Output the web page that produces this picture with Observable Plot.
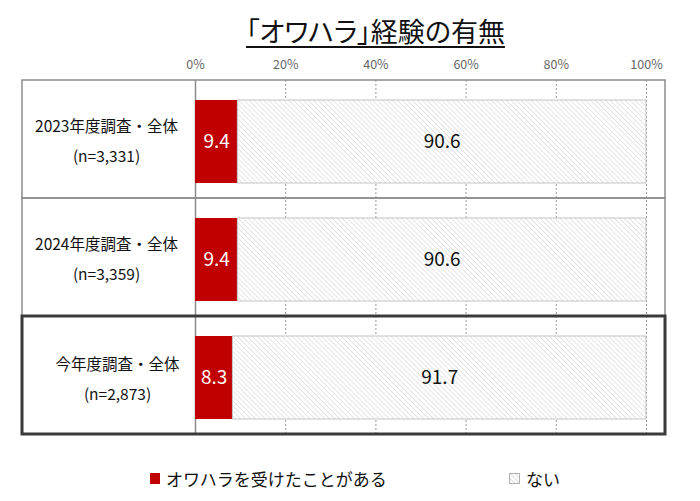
<!DOCTYPE html>
<html>
<head>
<meta charset="utf-8">
<script src="https://cdn.jsdelivr.net/npm/d3@7"></script>
<script src="https://cdn.jsdelivr.net/npm/@observablehq/plot@0.6"></script>
<style>
  body { margin: 0; background: #fff; font-family: "Noto Sans CJK JP", "Noto Sans", sans-serif; }
  #wrap { width: 700px; height: 501px; position: relative; }
  #title { height: 50px; position: relative; }
  #title span { position: absolute; left: 246px; top: 16px; font-size: 27px; line-height: 30px; color: #111; text-decoration: underline; text-underline-offset: 4px; text-decoration-thickness: 1.5px; white-space: nowrap; font-feature-settings: "palt"; }
  #legend { position: relative; height: 41px; font-size: 17px; color: #111; }
  .item { position: absolute; top: 6px; display: flex; align-items: center; white-space: nowrap; }
  .sw { width: 10px; height: 11px; margin-right: 6px; box-sizing: border-box; }
</style>
</head>
<body>
<div id="wrap">
  <div id="title"><span>「オワハラ」経験の有無</span></div>
  <div id="chart"></div>
  <div id="legend">
    <div class="item" style="left:150px"><div class="sw" style="background:#C00000"></div>オワハラを受けたことがある</div>
    <div class="item" style="left:509px"><svg class="sw" width="11" height="11" viewBox="0 0 11 11" style="width:11px;height:11px"><rect x="0.5" y="0.5" width="10" height="10" fill="url(#hatchL)" stroke="#b0b0b0"/><defs><pattern id="hatchL" patternUnits="userSpaceOnUse" width="3.5" height="3.5" patternTransform="rotate(-45)"><rect width="3.5" height="3.5" fill="#fff"/><line x1="0" y1="0" x2="0" y2="3.5" stroke="#bdbdbd" stroke-width="1.1"/></pattern></defs></svg>ない</div>
  </div>
</div>
<script>
const surveys = ["2023年度調査・全体", "2024年度調査・全体", "今年度調査・全体"];
const sampleSizes = ["(n=3,331)", "(n=3,359)", "(n=2,873)"];
const experienced = [9.4, 9.4, 8.3];
const notExperienced = [90.6, 90.6, 91.7];
const tickValues = [0, 20, 40, 60, 80, 100];
const gridValues = [20, 40, 60, 80, 100];
const seriesNames = ["オワハラを受けたことがある", "ない"];

const rows = surveys.map((s, i) => ({
  survey: s,
  label: s + "\n" + sampleSizes[i],
  yes: experienced[i],
  no: notExperienced[i],
  current: i === surveys.length - 1
}));

const segments = rows.flatMap(r => [
  {survey: r.survey, series: seriesNames[0], x1: 0, x2: r.yes, value: r.yes},
  {survey: r.survey, series: seriesNames[1], x1: r.yes, x2: r.yes + r.no, value: r.no}
]);

const chart = Plot.plot({
  width: 700,
  height: 410,
  marginLeft: 195,
  marginRight: 54,
  marginTop: 30,
  marginBottom: 26,
  style: {fontFamily: '"Noto Sans CJK JP", "Noto Sans", sans-serif', background: "#fff"},
  x: {domain: [0, 100], axis: "top", ticks: tickValues, tickFormat: d => d + "%", tickSize: 0, tickPadding: 12, label: null},
  y: {domain: surveys, padding: 0, axis: null},
  marks: [
    // row boxes
    Plot.barX(rows, {y: "survey", x1: 0, x2: 100, fill: "none", stroke: "#8c8c8c", strokeWidth: 1.5, insetLeft: -173, insetRight: -19}),
    // grid lines
    Plot.ruleX(gridValues, {stroke: "#9a9a9a", strokeWidth: 1, strokeDasharray: "2,2"}),
    Plot.ruleX([0], {stroke: "#8c8c8c", strokeWidth: 1.5}),
    // bars
    Plot.barX(segments.filter(d => d.series === seriesNames[0]), {y: "survey", x1: "x1", x2: "x2", fill: "#C00000", insetTop: 20, insetBottom: 15}),
    Plot.barX(segments.filter(d => d.series === seriesNames[1]), {y: "survey", x1: "x1", x2: "x2", fill: "url(#hatch)", stroke: "#c4c4c4", strokeWidth: 1, insetTop: 20, insetBottom: 15}),
    // value labels
    Plot.text(segments.filter(d => d.series === seriesNames[0]), {y: "survey", x: d => (d.x1 + d.x2) / 2, text: d => d.value.toFixed(1), fill: "#fff", fontSize: 19, dy: 2.5}),
    Plot.text(segments.filter(d => d.series === seriesNames[1]), {y: "survey", x: d => (d.x1 + d.x2) / 2, text: d => d.value.toFixed(1), fill: "#111", fontSize: 19, dy: 2.5}),
    // current survey thick box
    Plot.barX(rows.filter(r => r.current), {y: "survey", x1: 0, x2: 100, fill: "none", stroke: "#3a3a3a", strokeWidth: 3, insetLeft: -173, insetRight: -19}),
    // row labels
    Plot.text(rows.filter(r => !r.current), {y: "survey", text: "label", frameAnchor: "left", dx: -89, dy: -2, textAnchor: "middle", fontSize: 15.5, lineHeight: 1.95, fill: "#111"}),
    Plot.text(rows.filter(r => r.current), {y: "survey", text: "label", frameAnchor: "left", dx: -78, dy: 0, textAnchor: "middle", fontSize: 15.5, lineHeight: 1.95, fill: "#111"})
  ]
});

chart.insertAdjacentHTML("afterbegin",
  '<defs><pattern id="hatch" patternUnits="userSpaceOnUse" width="3.5" height="3.5" patternTransform="rotate(-45)">' +
  '<rect width="3.5" height="3.5" fill="#fff"/><line x1="0" y1="0" x2="0" y2="3.5" stroke="#cfcfcf" stroke-width="1.1"/></pattern></defs>');
chart.querySelectorAll('g[aria-label="x-axis tick label"]').forEach(el => {
  el.setAttribute("fill", "#666");
  el.setAttribute("font-size", "12.5");
});

document.getElementById("chart").appendChild(chart);
</script>
</body>
</html>
